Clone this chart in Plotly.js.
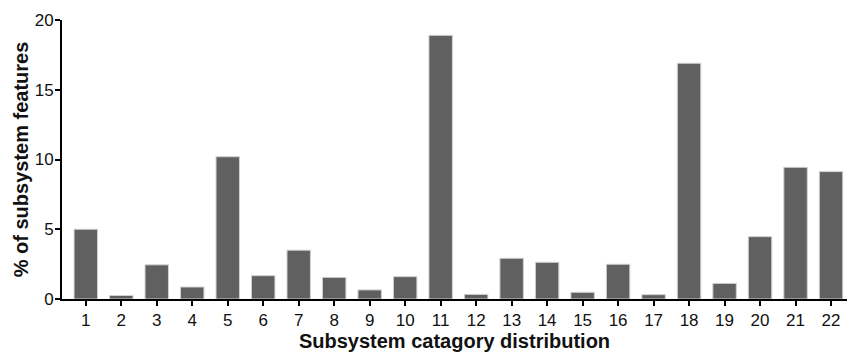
<!DOCTYPE html>
<html>
<head>
<meta charset="utf-8">
<script src="https://cdn.plot.ly/plotly-3.0.1.min.js"></script>
<style>html,body{margin:0;padding:0;background:#fff;}#chart{width:847px;height:355px;}</style>
</head>
<body>
<div id="chart"></div>
<script>
const categories = [1,2,3,4,5,6,7,8,9,10,11,12,13,14,15,16,17,18,19,20,21,22];
const percentValues = [5.0,0.25,2.45,0.86,10.2,1.67,3.5,1.55,0.65,1.6,18.9,0.33,2.92,2.63,0.48,2.49,0.31,16.9,1.12,4.47,9.44,9.13];
const yTickValues = [0,5,10,15,20];

const trace = {
  type: 'bar',
  x: categories,
  y: percentValues,
  width: 0.66,
  marker: {color: '#606060', line: {color: '#d0d0d0', width: 1}},
  hoverinfo: 'x+y'
};

const layout = {
  width: 847, height: 355,
  margin: {l: 62, r: 0, t: 20, b: 56},
  paper_bgcolor: '#fff', plot_bgcolor: '#fff',
  showlegend: false,
  font: {family: 'Liberation Sans, Arial, sans-serif', color: '#111', size: 17},
  xaxis: {
    range: [0.33, 22.45],
    tickvals: categories,
    ticktext: categories.map(String),
    ticks: 'outside', ticklen: 5, tickwidth: 2, tickcolor: '#000',
    showline: true, linecolor: '#000', linewidth: 2,
    showgrid: false, zeroline: false,
    tickfont: {size: 17},
    title: {text: 'Subsystem catagory distribution', font: {size: 20, weight: 'bold'}, standoff: 4}
  },
  yaxis: {
    range: [0, 20],
    tickvals: yTickValues,
    ticks: 'outside', ticklen: 5, tickwidth: 2, tickcolor: '#000',
    showline: true, linecolor: '#000', linewidth: 2,
    showgrid: false, zeroline: false,
    tickfont: {size: 17},
    ticklabelstandoff: -2,
    title: {text: '% of subsystem features', font: {size: 20, weight: 'bold'}, standoff: 1}
  }
};

Plotly.newPlot('chart', [trace], layout, {displayModeBar: false, staticPlot: true});
</script>
</body>
</html>
